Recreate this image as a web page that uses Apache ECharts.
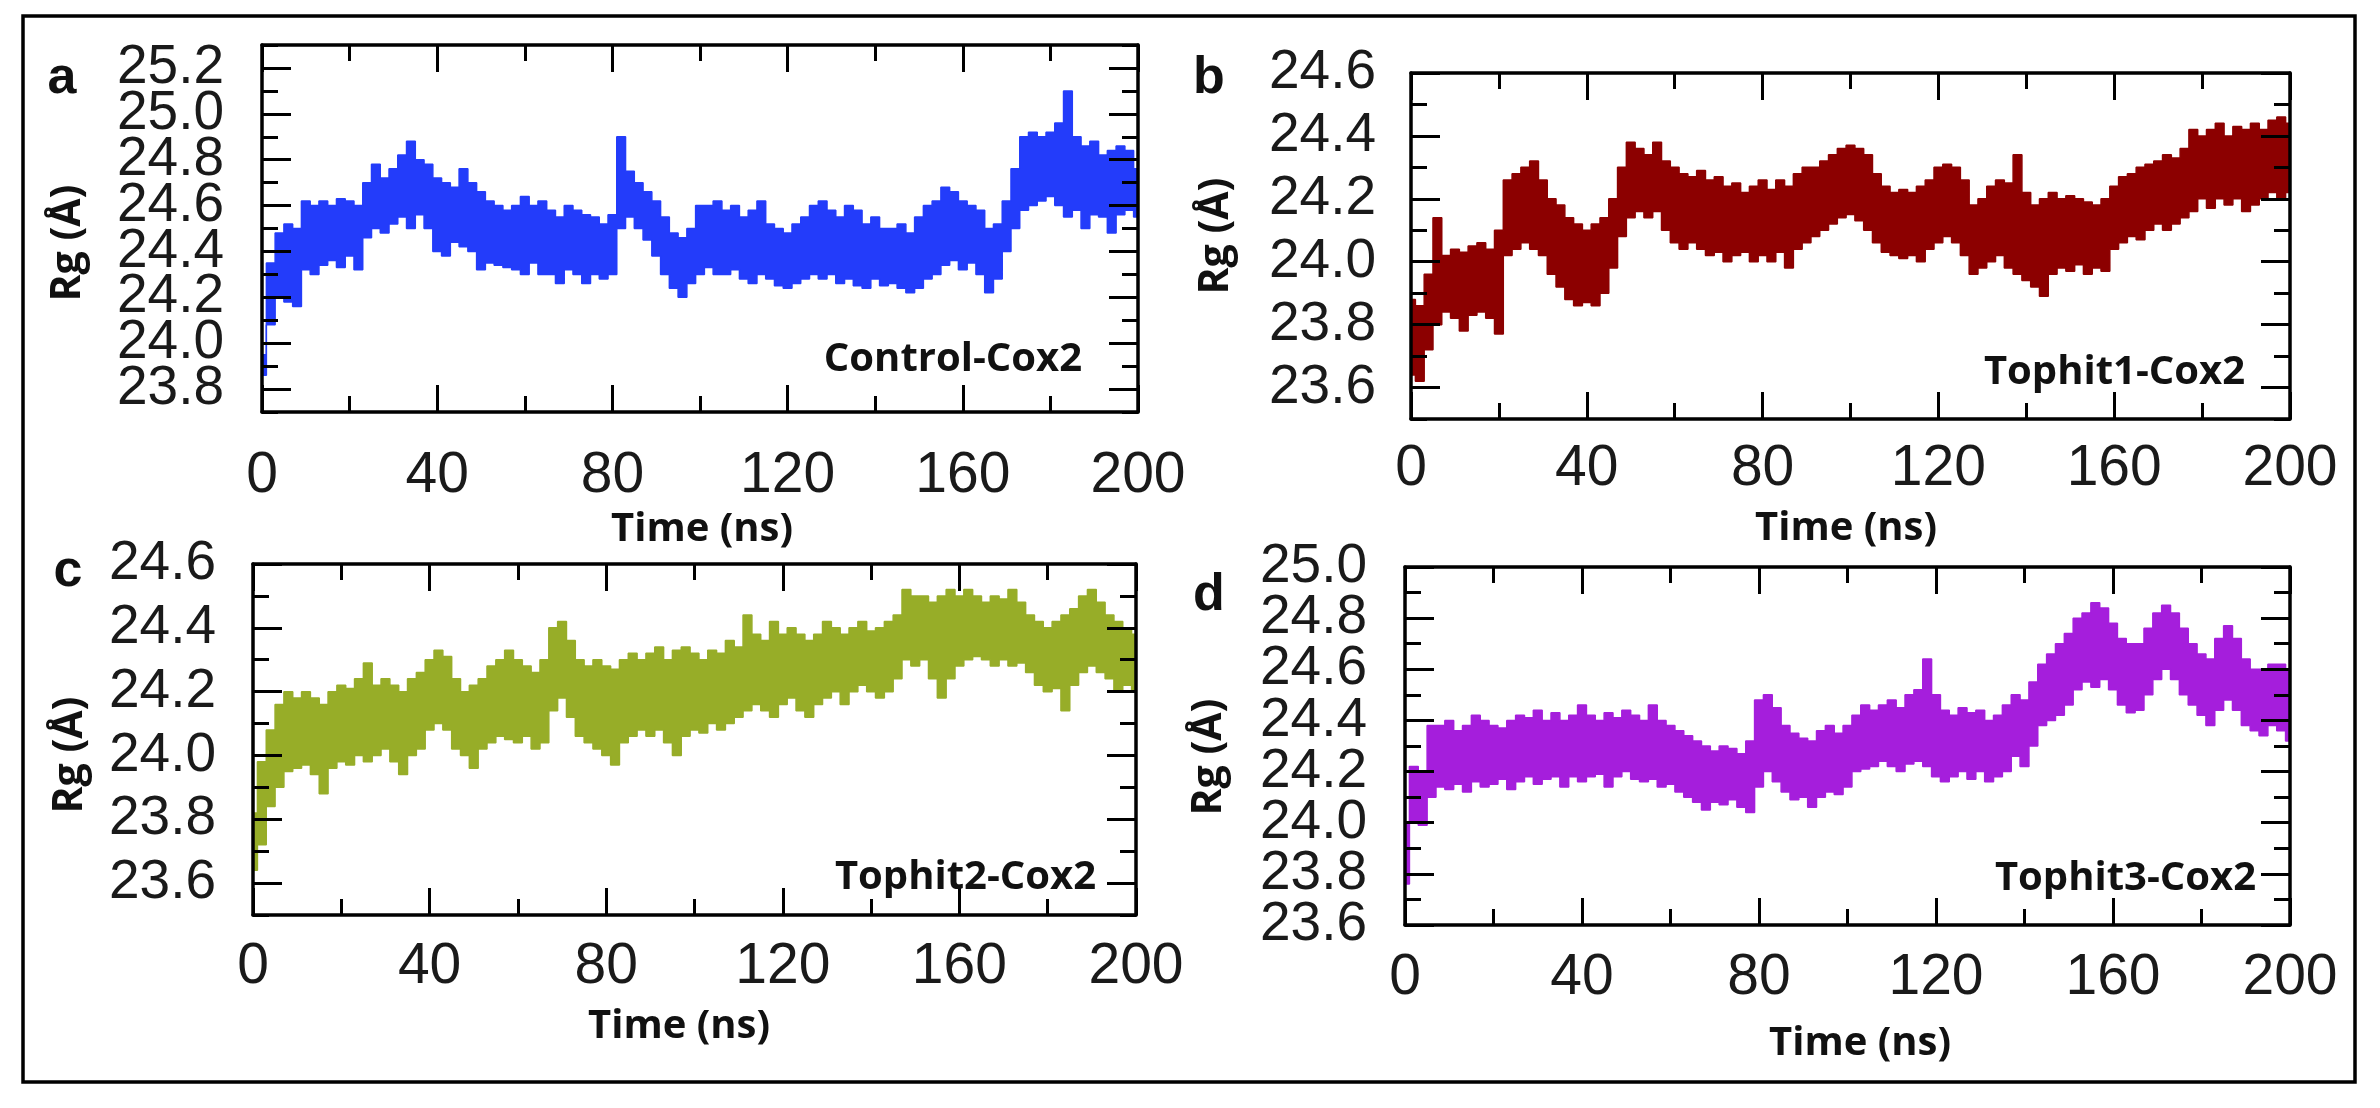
<!DOCTYPE html>
<html>
<head>
<meta charset="utf-8">
<title>Rg vs time</title>
<script src="https://cdn.jsdelivr.net/npm/echarts@6/dist/echarts.min.js"></script>
<style>
html, body { margin: 0; padding: 0; background: #fff; }
#main { width: 2380px; height: 1108px; }
</style>
</head>
<body>
<div id="main"></div>
<script>
// time axis (ns), sampled every 2 ns
var timeNs = [
    0, 2, 4, 6, 8, 10, 12, 14, 16, 18,
    20, 22, 24, 26, 28, 30, 32, 34, 36, 38,
    40, 42, 44, 46, 48, 50, 52, 54, 56, 58,
    60, 62, 64, 66, 68, 70, 72, 74, 76, 78,
    80, 82, 84, 86, 88, 90, 92, 94, 96, 98,
    100, 102, 104, 106, 108, 110, 112, 114, 116, 118,
    120, 122, 124, 126, 128, 130, 132, 134, 136, 138,
    140, 142, 144, 146, 148, 150, 152, 154, 156, 158,
    160, 162, 164, 166, 168, 170, 172, 174, 176, 178,
    180, 182, 184, 186, 188, 190, 192, 194, 196, 198,
    200
];

// lower / upper edge of the fluctuating Rg trace (Å)
var rgLowA = [
    23.86, 24.08, 24.20, 24.18, 24.16, 24.32, 24.30, 24.34, 24.36, 24.33,
    24.38, 24.32, 24.46, 24.50, 24.48, 24.52, 24.55, 24.50, 24.56, 24.50,
    24.40, 24.38, 24.44, 24.42, 24.40, 24.32, 24.35, 24.34, 24.33, 24.32,
    24.30, 24.35, 24.30, 24.30, 24.26, 24.32, 24.30, 24.26, 24.30, 24.28,
    24.30, 24.50, 24.55, 24.50, 24.45, 24.38, 24.30, 24.24, 24.20, 24.26,
    24.30, 24.33, 24.30, 24.30, 24.32, 24.28, 24.26, 24.30, 24.28, 24.25,
    24.24, 24.26, 24.28, 24.30, 24.28, 24.30, 24.26, 24.28, 24.25, 24.24,
    24.28, 24.25, 24.26, 24.24, 24.22, 24.24, 24.28, 24.30, 24.34, 24.36,
    24.32, 24.35, 24.30, 24.22, 24.28, 24.40, 24.50, 24.58, 24.60, 24.62,
    24.64, 24.60, 24.55, 24.58, 24.50, 24.56, 24.55, 24.48, 24.56, 24.58,
    24.55
];
var rgHighA = [
    23.95, 24.35, 24.48, 24.52, 24.50, 24.62, 24.60, 24.62, 24.60, 24.63,
    24.62, 24.60, 24.70, 24.78, 24.72, 24.76, 24.82, 24.88, 24.80, 24.78,
    24.72, 24.70, 24.68, 24.76, 24.70, 24.66, 24.62, 24.60, 24.58, 24.60,
    24.64, 24.60, 24.62, 24.58, 24.55, 24.60, 24.58, 24.56, 24.55, 24.52,
    24.56, 24.90, 24.75, 24.70, 24.66, 24.62, 24.55, 24.48, 24.46, 24.50,
    24.60, 24.60, 24.62, 24.58, 24.60, 24.55, 24.58, 24.62, 24.52, 24.50,
    24.48, 24.52, 24.55, 24.60, 24.62, 24.58, 24.55, 24.60, 24.58, 24.52,
    24.55, 24.50, 24.50, 24.52, 24.48, 24.55, 24.60, 24.62, 24.68, 24.66,
    24.62, 24.60, 24.58, 24.50, 24.52, 24.62, 24.76, 24.90, 24.92, 24.90,
    24.92, 24.96, 25.10, 24.90, 24.86, 24.88, 24.82, 24.84, 24.86, 24.84,
    24.76
];

var rgLowB = [
    23.64, 23.62, 23.72, 23.80, 23.84, 23.82, 23.78, 23.83, 23.84, 23.82,
    23.77, 24.02, 24.04, 24.06, 24.04, 24.02, 23.96, 23.92, 23.88, 23.86,
    23.87, 23.86, 23.90, 23.98, 24.08, 24.14, 24.16, 24.14, 24.16, 24.10,
    24.06, 24.04, 24.06, 24.04, 24.02, 24.03, 24.00, 24.02, 24.03, 24.00,
    24.02, 24.00, 24.03, 23.98, 24.04, 24.06, 24.08, 24.10, 24.12, 24.14,
    24.15, 24.13, 24.10, 24.06, 24.03, 24.02, 24.01, 24.02, 24.00, 24.04,
    24.06, 24.08, 24.06, 24.02, 23.96, 23.98, 24.00, 24.02, 23.98, 23.96,
    23.94, 23.92, 23.89, 23.96, 23.98, 23.97, 23.99, 23.96, 23.98, 23.97,
    24.04, 24.06, 24.08, 24.07, 24.10, 24.12, 24.10, 24.12, 24.14, 24.16,
    24.20, 24.17, 24.20, 24.18, 24.20, 24.16, 24.18, 24.20, 24.22, 24.20,
    24.22
];
var rgHighB = [
    23.88, 23.86, 23.96, 24.14, 24.02, 24.04, 24.03, 24.05, 24.06, 24.04,
    24.10, 24.26, 24.28, 24.30, 24.32, 24.26, 24.20, 24.18, 24.14, 24.12,
    24.10, 24.12, 24.14, 24.20, 24.30, 24.38, 24.36, 24.34, 24.38, 24.32,
    24.30, 24.28, 24.27, 24.29, 24.26, 24.27, 24.24, 24.25, 24.22, 24.24,
    24.26, 24.23, 24.26, 24.24, 24.28, 24.30, 24.30, 24.32, 24.34, 24.36,
    24.37, 24.36, 24.34, 24.28, 24.24, 24.22, 24.23, 24.22, 24.24, 24.26,
    24.30, 24.31, 24.30, 24.26, 24.18, 24.20, 24.24, 24.26, 24.25, 24.34,
    24.22, 24.18, 24.20, 24.22, 24.20, 24.21, 24.20, 24.19, 24.18, 24.20,
    24.24, 24.27, 24.28, 24.30, 24.31, 24.32, 24.34, 24.33, 24.36, 24.42,
    24.40, 24.42, 24.44, 24.40, 24.43, 24.42, 24.44, 24.42, 24.45, 24.46,
    24.44
];

var rgLowC = [
    23.64, 23.72, 23.84, 23.90, 23.95, 23.96, 23.97, 23.94, 23.88, 23.96,
    23.98, 23.97, 24.00, 23.98, 24.00, 24.02, 23.98, 23.94, 24.00, 24.02,
    24.08, 24.10, 24.08, 24.02, 24.00, 23.96, 24.02, 24.04, 24.06, 24.05,
    24.04, 24.06, 24.02, 24.04, 24.14, 24.18, 24.12, 24.06, 24.04, 24.02,
    24.00, 23.97, 24.04, 24.06, 24.08, 24.06, 24.08, 24.04, 24.00, 24.06,
    24.08, 24.07, 24.10, 24.08, 24.10, 24.12, 24.14, 24.16, 24.14, 24.12,
    24.16, 24.18, 24.14, 24.12, 24.16, 24.18, 24.20, 24.16, 24.20, 24.22,
    24.20, 24.18, 24.20, 24.24, 24.30, 24.28, 24.30, 24.24, 24.18, 24.24,
    24.28, 24.30, 24.31, 24.30, 24.28, 24.30, 24.28, 24.29, 24.26, 24.22,
    24.20, 24.21, 24.14, 24.22, 24.26, 24.28, 24.26, 24.24, 24.20, 24.22,
    24.20
];
var rgHighC = [
    23.82, 23.98, 24.08, 24.16, 24.20, 24.18, 24.20, 24.18, 24.16, 24.20,
    24.22, 24.21, 24.24, 24.29, 24.22, 24.24, 24.22, 24.20, 24.24, 24.26,
    24.30, 24.33, 24.31, 24.24, 24.20, 24.22, 24.24, 24.28, 24.30, 24.33,
    24.30, 24.28, 24.26, 24.30, 24.40, 24.42, 24.36, 24.30, 24.28, 24.30,
    24.28, 24.27, 24.30, 24.32, 24.30, 24.32, 24.34, 24.30, 24.33, 24.34,
    24.32, 24.30, 24.33, 24.32, 24.36, 24.34, 24.44, 24.38, 24.36, 24.42,
    24.38, 24.40, 24.38, 24.36, 24.38, 24.42, 24.40, 24.38, 24.40, 24.42,
    24.39, 24.40, 24.42, 24.44, 24.52, 24.50, 24.50, 24.48, 24.50, 24.52,
    24.50, 24.52, 24.50, 24.48, 24.50, 24.49, 24.52, 24.48, 24.44, 24.42,
    24.40, 24.42, 24.44, 24.46, 24.50, 24.52, 24.48, 24.44, 24.42, 24.40,
    24.38
];

var rgLowD = [
    23.76, 24.00, 23.99, 24.10, 24.14, 24.13, 24.15, 24.12, 24.16, 24.14,
    24.15, 24.17, 24.13, 24.16, 24.18, 24.15, 24.17, 24.18, 24.14, 24.18,
    24.16, 24.18, 24.19, 24.14, 24.18, 24.20, 24.17, 24.16, 24.17, 24.14,
    24.15, 24.12, 24.10, 24.08, 24.05, 24.08, 24.07, 24.09, 24.06, 24.04,
    24.14, 24.20, 24.16, 24.12, 24.09, 24.10, 24.06, 24.10, 24.12, 24.11,
    24.14, 24.20, 24.21, 24.22, 24.24, 24.22, 24.20, 24.23, 24.24, 24.22,
    24.18, 24.16, 24.18, 24.20, 24.17, 24.20, 24.16, 24.18, 24.20, 24.26,
    24.22, 24.30, 24.38, 24.40, 24.42, 24.46, 24.52, 24.55, 24.53, 24.56,
    24.52, 24.46, 24.43, 24.44, 24.50, 24.56, 24.60, 24.56, 24.50, 24.46,
    24.42, 24.38, 24.44, 24.48, 24.44, 24.38, 24.36, 24.34, 24.38, 24.36,
    24.32
];
var rgHighD = [
    24.00, 24.22, 24.20, 24.38, 24.38, 24.40, 24.36, 24.38, 24.42, 24.40,
    24.38, 24.37, 24.40, 24.42, 24.41, 24.44, 24.40, 24.43, 24.40, 24.42,
    24.46, 24.42, 24.40, 24.43, 24.41, 24.44, 24.42, 24.40, 24.46, 24.40,
    24.38, 24.36, 24.34, 24.32, 24.30, 24.28, 24.30, 24.29, 24.27, 24.32,
    24.48, 24.50, 24.45, 24.38, 24.35, 24.33, 24.32, 24.36, 24.38, 24.35,
    24.38, 24.42, 24.46, 24.44, 24.46, 24.48, 24.45, 24.50, 24.52, 24.64,
    24.50, 24.44, 24.42, 24.45, 24.43, 24.44, 24.40, 24.42, 24.46, 24.50,
    24.48, 24.55, 24.62, 24.66, 24.70, 24.74, 24.80, 24.82, 24.86, 24.84,
    24.78, 24.72, 24.70, 24.70, 24.76, 24.82, 24.85, 24.82, 24.76, 24.70,
    24.66, 24.64, 24.72, 24.77, 24.72, 24.64, 24.60, 24.60, 24.62, 24.62,
    24.60
];

var panelLetters = ['a', 'b', 'c', 'd'];
var panelNames = ['Control-Cox2', 'Tophit1-Cox2', 'Tophit2-Cox2', 'Tophit3-Cox2'];
var yMin = [23.7, 23.5, 23.5, 23.6];
var yMax = [25.3, 24.6, 24.6, 25.0];
// labelled (long) y ticks of each panel
var yLabelsA = [23.8, 24.0, 24.2, 24.4, 24.6, 24.8, 25.0, 25.2];
var yLabelsB = [23.6, 23.8, 24.0, 24.2, 24.4, 24.6];
var yLabelsC = [23.6, 23.8, 24.0, 24.2, 24.4, 24.6];
var yLabelsD = [23.6, 23.8, 24.0, 24.2, 24.4, 24.6, 24.8, 25.0];
var xTicks = [0, 200, 40];

var lows = [rgLowA, rgLowB, rgLowC, rgLowD];
var highs = [rgHighA, rgHighB, rgHighC, rgHighD];
var yLabels = [yLabelsA, yLabelsB, yLabelsC, yLabelsD];
var colors = ['#233cfa', '#8c0000', '#97ad28', '#a51edc'];

// layout of the four panels (pixels)
var grids = [
    { left: 262, top: 45, width: 876, height: 367 },
    { left: 1411, top: 73, width: 879, height: 346 },
    { left: 253, top: 564, width: 883, height: 351 },
    { left: 1405, top: 567, width: 885, height: 358 }
];
var xLabelMargin = [36, 22, 24, 25];
var yLabelMargin = [38, 35, 37, 38];
var yLabelLift = [2, 12, 12, 16];   // tick labels sit a little above their ticks
var letterPos = [[62, 79], [1209, 79], [68, 572], [1209, 596]];
var namePos = [[1082, 360], [2245, 373], [1096, 878], [2256, 879]];
var timePos = [[702, 530], [1846, 529], [679, 1027], [1860, 1044]];
var rgPos = [[68, 243], [1216, 236], [70, 755], [1209, 757]];

var tickFont = 'Liberation Sans, Arial, sans-serif';
var boldFont = 'Open Sans, Lato, sans-serif';

var myChart = echarts.init(document.getElementById('main'));

var gridList = [], xAxes = [], yAxes = [], series = [], graphics = [];

function axisLine(show) {
    return { show: show, onZero: false, lineStyle: { color: '#000', width: 3.5 } };
}

// the tenths between the labelled ticks get short ticks
function shortTicks(i) {
    var out = [];
    for (var k = Math.round(yMin[i] * 10); k <= Math.round(yMax[i] * 10); k++) {
        if (yLabels[i].indexOf(k / 10) < 0) out.push(k / 10);
    }
    return out;
}

// the labels are taller than their spacing in panels a and d, so every
// other one goes on the overlay axis and ECharts does not drop any
function labelHalf(i, part) {
    return yLabels[i].filter(function (v, k) { return k % 2 === part; });
}

function yLabelStyle(i, part) {
    return {
        show: true, margin: yLabelMargin[i], customValues: labelHalf(i, part),
        showMinLabel: true, showMaxLabel: true,
        padding: [0, 0, yLabelLift[i], 0],
        fontSize: 55, fontFamily: tickFont, color: '#1a1a1a',
        formatter: function (v) { return (+v).toFixed(1); }
    };
}

for (var i = 0; i < 4; i++) {
    gridList.push(grids[i]);
    [false, true].forEach(function (mirror) {
        xAxes.push({
            type: 'value', gridIndex: i, position: mirror ? 'top' : 'bottom', z: 10,
            min: xTicks[0], max: xTicks[1], interval: xTicks[2],
            axisLine: axisLine(true),
            axisTick: { show: true, inside: true, length: 27, lineStyle: { color: '#000', width: 3 } },
            minorTick: { show: true, splitNumber: 2, length: 16, lineStyle: { color: '#000', width: 3 } },
            splitLine: { show: false },
            minorSplitLine: { show: false },
            axisLabel: {
                show: !mirror, margin: xLabelMargin[i],
                fontSize: 57, fontFamily: tickFont, color: '#1a1a1a'
            }
        });
        yAxes.push({
            type: 'value', gridIndex: i, position: mirror ? 'right' : 'left', z: 10,
            min: yMin[i], max: yMax[i], interval: 0.1,
            axisLine: axisLine(true),
            axisTick: {
                show: true, inside: true, length: 29, customValues: yLabels[i],
                lineStyle: { color: '#000', width: 3 }
            },
            splitLine: { show: false },
            axisLabel: mirror ? { show: false } : yLabelStyle(i, 0)
        });
    });

    var lo = lows[i], hi = highs[i];
    // upper edge filled down to the axis, then lower edge masked in white:
    // what is left visible is the band of the trace
    series.push({
        type: 'line', xAxisIndex: 2 * i, yAxisIndex: 2 * i, z: 2,
        symbol: 'none', silent: true, step: 'middle',
        lineStyle: { color: colors[i], width: 1.5 },
        areaStyle: { color: colors[i], opacity: 1, origin: 'start' },
        data: timeNs.map(function (t, k) { return [t, hi[k]]; })
    });
    series.push({
        type: 'line', xAxisIndex: 2 * i, yAxisIndex: 2 * i, z: 3,
        symbol: 'none', silent: true, step: 'middle',
        lineStyle: { color: colors[i], width: 1.5 },
        areaStyle: { color: '#fff', opacity: 1, origin: 'start' },
        data: timeNs.map(function (t, k) { return [t, lo[k]]; })
    });

    graphics.push({
        type: 'text', x: letterPos[i][0], y: letterPos[i][1], z: 100,
        style: {
            text: panelLetters[i], font: 'bold 52px ' + tickFont, fill: '#111',
            textAlign: 'center', align: 'center', textVerticalAlign: 'middle', verticalAlign: 'middle'
        }
    });
    graphics.push({
        type: 'text', x: namePos[i][0], y: namePos[i][1], z: 100,
        style: {
            text: panelNames[i], font: 'bold 40px ' + boldFont, fill: '#111',
            textAlign: 'right', align: 'right', textVerticalAlign: 'middle', verticalAlign: 'middle'
        }
    });
    graphics.push({
        type: 'text', x: timePos[i][0], y: timePos[i][1], z: 100,
        style: {
            text: 'Time (ns)', font: 'bold 40px ' + boldFont, fill: '#111',
            textAlign: 'center', align: 'center', textVerticalAlign: 'middle', verticalAlign: 'middle'
        }
    });
    graphics.push({
        type: 'text', x: rgPos[i][0], y: rgPos[i][1], rotation: Math.PI / 2, z: 100,
        style: {
            text: 'Rg (Å)', font: 'bold 41px ' + boldFont, fill: '#111',
            textAlign: 'center', align: 'center', textVerticalAlign: 'middle', verticalAlign: 'middle'
        }
    });
}

// second, bare grid on top of each panel: short y ticks and the other half of the labels
for (var j = 0; j < 4; j++) {
    gridList.push(grids[j]);
    xAxes.push({ type: 'value', gridIndex: 4 + j, min: xTicks[0], max: xTicks[1], show: false });
    [false, true].forEach(function (mirror) {
        yAxes.push({
            type: 'value', gridIndex: 4 + j, position: mirror ? 'right' : 'left', z: 10,
            min: yMin[j], max: yMax[j], interval: 0.1,
            axisLine: axisLine(false),
            axisTick: {
                show: true, inside: true, length: 16, customValues: shortTicks(j),
                lineStyle: { color: '#000', width: 3 }
            },
            splitLine: { show: false },
            axisLabel: mirror ? { show: false } : yLabelStyle(j, 1)
        });
    });
}

// outer frame round the whole figure
graphics.push({
    type: 'rect', shape: { x: 23, y: 16, width: 2332, height: 1066 }, z: 100,
    style: { fill: 'none', stroke: '#000', lineWidth: 3.5 }
});

var option = {
    backgroundColor: '#fff',
    animation: false,
    grid: gridList,
    xAxis: xAxes,
    yAxis: yAxes,
    series: series,
    graphic: { elements: graphics }
};

myChart.setOption(option);
</script>
</body>
</html>
